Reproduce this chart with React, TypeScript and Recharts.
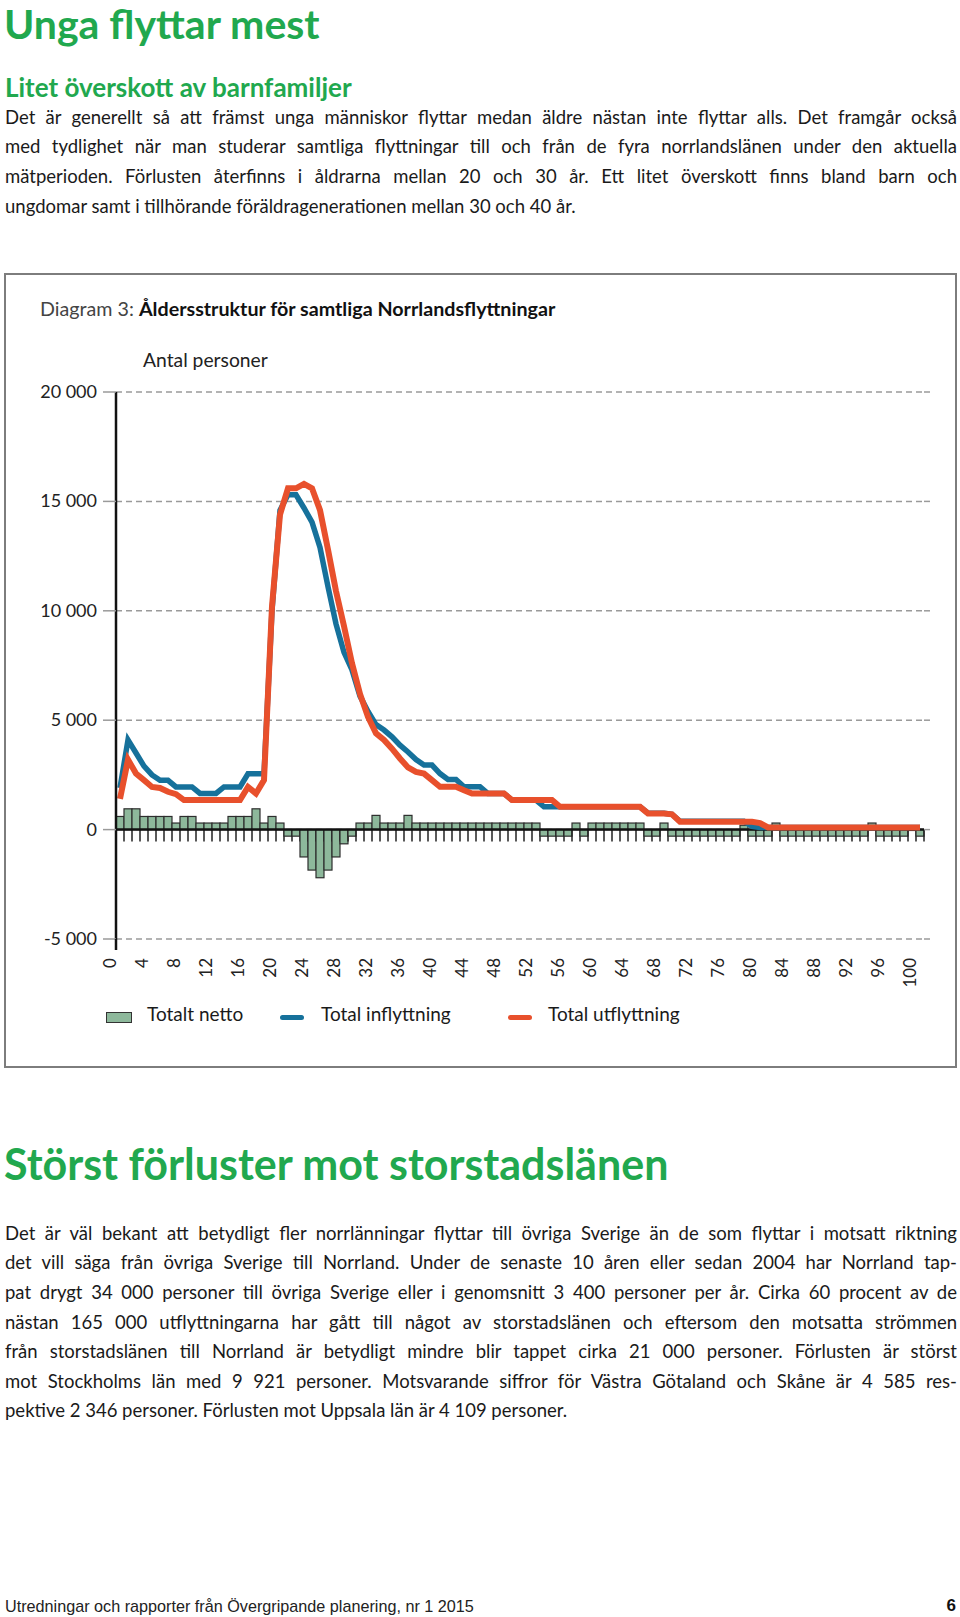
import {
  Bar,
  CartesianGrid,
  ComposedChart,
  Line,
  ReferenceLine,
  XAxis,
  YAxis,
} from "recharts";

// ålder 0–100
const ages = [
  0, 1, 2, 3, 4, 5, 6, 7, 8, 9, 10, 11, 12, 13, 14, 15, 16, 17, 18, 19, 20,
  21, 22, 23, 24, 25, 26, 27, 28, 29, 30, 31, 32, 33, 34, 35, 36, 37, 38, 39,
  40, 41, 42, 43, 44, 45, 46, 47, 48, 49, 50, 51, 52, 53, 54, 55, 56, 57, 58,
  59, 60, 61, 62, 63, 64, 65, 66, 67, 68, 69, 70, 71, 72, 73, 74, 75, 76, 77,
  78, 79, 80, 81, 82, 83, 84, 85, 86, 87, 88, 89, 90, 91, 92, 93, 94, 95, 96,
  97, 98, 99, 100,
];

const totaltNetto = [
  600, 950, 950, 600, 600, 600, 600, 300, 600, 600,
  300, 300, 300, 300, 600, 600, 600, 950, 300, 600,
  300, -300, -300, -1250, -1850, -2200, -1850, -1250, -650, -300,
  300, 300, 650, 300, 300, 300, 650, 300, 300, 300,
  300, 300, 300, 300, 300, 300, 300, 300, 300, 300,
  300, 300, 300, -300, -300, -300, -300, 300, -300, 300,
  300, 300, 300, 300, 300, 300, -300, -300, 300, -300,
  -300, -300, -300, -300, -300, -300, -300, -300, 200, -300,
  -300, -300, 300, -300, -300, -300, -300, -300, -300, -300,
  -300, -300, -300, -300, 300, -300, -300, -300, -300, -40,
  -300,
];

const totalInflyttning = [
  1900, 4100, 3500, 2900, 2500, 2250, 2250, 1950, 1950, 1950,
  1650, 1650, 1650, 1950, 1950, 1950, 2550, 2550, 2550, 10000,
  14600, 15300, 15300, 14700, 14050, 12900, 11100, 9400, 8100, 7300,
  6100, 5400, 4800, 4550, 4240, 3860, 3550, 3200, 2950, 2950,
  2560, 2290, 2290, 1960, 1960, 1960, 1650, 1650, 1650, 1350,
  1350, 1350, 1350, 1040, 1040, 1040, 1040, 1040, 1040, 1040,
  1040, 1040, 1040, 1040, 1040, 1040, 750, 750, 750, 700,
  380, 380, 380, 380, 380, 380, 380, 380, 380, 150,
  100, 100, 100, 100, 100, 100, 100, 100, 100, 100,
  100, 100, 100, 100, 100, 100, 100, 100, 100, 100,
  100,
];

const totalUtflyttning = [
  1400, 3200, 2560, 2260, 1950, 1900, 1730, 1620, 1350, 1350,
  1350, 1350, 1350, 1350, 1350, 1350, 1950, 1650, 2260, 10200,
  14400, 15600, 15600, 15800, 15600, 14600, 12800, 10900, 9300, 7600,
  6200, 5150, 4400, 4100, 3700, 3250, 2840, 2640, 2560, 2260,
  1960, 1960, 1960, 1800, 1650, 1650, 1650, 1650, 1650, 1350,
  1350, 1350, 1350, 1350, 1350, 1040, 1040, 1040, 1040, 1040,
  1040, 1040, 1040, 1040, 1040, 1040, 740, 740, 740, 700,
  360, 360, 360, 360, 360, 360, 360, 360, 360, 360,
  300, 100, 100, 100, 100, 100, 100, 100, 100, 100,
  100, 100, 100, 100, 100, 100, 100, 100, 100, 100,
  100,
];

const yTicks = [-5000, 0, 5000, 10000, 15000, 20000];

const chartData = ages.map((age, i) => ({
  age,
  netto: totaltNetto[i],
  inflyttning: totalInflyttning[i],
  utflyttning: totalUtflyttning[i],
}));

const GREEN = "#21a84e";
const BAR_FILL = "#8db89b";
const BLUE = "#16719b";
const RED = "#e8502c";
const FONT = "Lato, 'Open Sans', sans-serif";

const CHART_W = 960;
const CHART_H = 1000;
const PLOT_LEFT = 116;
const PLOT_RIGHT = 924;
const PLOT_TOP = 392;
const PLOT_BOTTOM = 939;
const X_AXIS_H = 50;
const LABEL_TOP = 958;

const BODY_FS = 18.5;

const fmt = (v: number) => String(v).replace(/\B(?=(\d{3})+(?!\d))/g, " ");

// top för en absolut placerad rad, givet baslinje
const topFor = (baseline: number, fs: number, lh: number) =>
  baseline - lh / 2 - 0.387 * fs;

const YTick = ({ y, payload }: any) => (
  <g>
    <line
      x1={PLOT_LEFT - 13}
      x2={PLOT_LEFT}
      y1={y}
      y2={y}
      stroke="#9a9a9a"
      strokeWidth={1.5}
    />
    <line
      x1={PLOT_RIGHT}
      x2={931}
      y1={y}
      y2={y}
      stroke="#9a9a9a"
      strokeWidth={1.5}
      strokeDasharray="6 4"
    />
    {payload.value === yTicks[0] && (
      <line x1={PLOT_LEFT} x2={PLOT_LEFT} y1={y} y2={y + 11} stroke="#111" strokeWidth={2.5} />
    )}
    <text x={97} y={y} dy={6} textAnchor="end" fontSize={18} fontFamily={FONT} fill="#222">
      {fmt(payload.value)}
    </text>
  </g>
);

const XTick = ({ x, payload }: any) => {
  const ax = x - 4;
  return (
    <text
      x={ax}
      y={LABEL_TOP}
      transform={`rotate(-90, ${ax}, ${LABEL_TOP})`}
      textAnchor="end"
      fontSize={17}
      fontFamily={FONT}
      fill="#222"
    >
      {payload.value}
    </text>
  );
};

const NetBar = (props: any) => {
  const { x, y, width, height, payload } = props;
  const top = Math.min(y, y + height);
  const h = Math.abs(height);
  const zeroY = payload.netto >= 0 ? top + h : top;
  return (
    <g>
      <rect x={x} y={top} width={width} height={h} fill={BAR_FILL} stroke="#2d2d2d" strokeWidth={1.2} />
      <line x1={x + width} x2={x + width} y1={zeroY} y2={zeroY + 12} stroke="#222" strokeWidth={1.5} />
    </g>
  );
};

type RowProps = { baseline: number; children: React.ReactNode; last?: boolean };

const BodyRow = ({ baseline, children, last }: RowProps) => (
  <div
    style={{
      position: "absolute",
      left: 5,
      width: 952,
      top: topFor(baseline, BODY_FS, 22),
      fontSize: BODY_FS,
      lineHeight: "22px",
      whiteSpace: "nowrap",
      textAlign: last ? "left" : "justify",
      textAlignLast: last ? "left" : "justify",
      color: "#1a1a1a",
    }}
  >
    {children}
  </div>
);

const intro = [
  "Det är generellt så att främst unga människor flyttar medan äldre nästan inte flyttar alls. Det framgår också",
  "med tydlighet när man studerar samtliga flyttningar till och från de fyra norrlandslänen under den aktuella",
  "mätperioden. Förlusten återfinns i åldrarna mellan 20 och 30 år. Ett litet överskott finns bland barn och",
  "ungdomar samt i tillhörande föräldragenerationen mellan 30 och 40 år.",
];

const storstad = [
  "Det är väl bekant att betydligt fler norrlänningar flyttar till övriga Sverige än de som flyttar i motsatt riktning",
  "det vill säga från övriga Sverige till Norrland. Under de senaste 10 åren eller sedan 2004 har Norrland tap-",
  "pat drygt 34 000 personer till övriga Sverige eller i genomsnitt 3 400 personer per år. Cirka 60 procent av de",
  "nästan 165 000 utflyttningarna har gått till något av storstadslänen och eftersom den motsatta strömmen",
  "från storstadslänen till Norrland är betydligt mindre blir tappet cirka 21 000 personer. Förlusten är störst",
  "mot Stockholms län med 9 921 personer. Motsvarande siffror för Västra Götaland och Skåne är 4 585 res-",
  "pektive 2 346 personer. Förlusten mot Uppsala län är 4 109 personer.",
];

const legendText = { position: "absolute" as const, top: topFor(1021.5, 19, 22), fontSize: 19, lineHeight: "22px", color: "#1a1a1a", whiteSpace: "nowrap" as const };

const App = () => (
  <div style={{ position: "relative", width: 960, height: 1617, fontFamily: FONT, background: "#fff", overflow: "hidden" }}>
    <style>{"body{margin:0}"}</style>

    <div style={{ position: "absolute", left: 4, top: topFor(40, 41, 44), fontSize: 41, lineHeight: "44px", fontWeight: 700, color: GREEN, whiteSpace: "nowrap" }}>
      Unga flyttar mest
    </div>
    <div style={{ position: "absolute", left: 5, top: topFor(97, 26, 30), fontSize: 26, lineHeight: "30px", fontWeight: 700, color: GREEN, whiteSpace: "nowrap" }}>
      Litet överskott av barnfamiljer
    </div>
    {intro.map((t, i) => (
      <BodyRow key={t} baseline={124 + i * 29.6} last={i === intro.length - 1}>
        {t}
      </BodyRow>
    ))}

    <div style={{ position: "absolute", left: 4, top: 273, width: 953, height: 795, border: "2px solid #7d7d7d", boxSizing: "border-box" }} />

    <div style={{ position: "absolute", left: 40, top: topFor(317, 19.7, 24), fontSize: 19.7, lineHeight: "24px", whiteSpace: "nowrap" }}>
      <span style={{ fontWeight: 400, color: "#444" }}>Diagram 3: </span>
      <span style={{ fontWeight: 700, color: "#111" }}>Åldersstruktur för samtliga Norrlandsflyttningar</span>
    </div>
    <div style={{ position: "absolute", left: 143, top: topFor(367, 19.3, 22), fontSize: 19.3, lineHeight: "22px", color: "#222", whiteSpace: "nowrap" }}>
      Antal personer
    </div>

    <div style={{ position: "absolute", left: 0, top: 0 }}>
      <ComposedChart
        width={CHART_W}
        height={CHART_H}
        data={chartData}
        barCategoryGap={0}
        barGap={0}
        margin={{ top: PLOT_TOP, right: CHART_W - PLOT_RIGHT, bottom: CHART_H - PLOT_BOTTOM - X_AXIS_H, left: 0 }}
      >
        <CartesianGrid vertical={false} stroke="#9a9a9a" strokeWidth={1.5} strokeDasharray="6 4" />
        <XAxis
          dataKey="age"
          type="category"
          interval={3}
          axisLine={false}
          tickLine={false}
          height={X_AXIS_H}
          tick={(p: any) => <XTick {...p} />}
        />
        <YAxis
          type="number"
          domain={[yTicks[0], yTicks[yTicks.length - 1]]}
          ticks={yTicks}
          width={PLOT_LEFT}
          axisLine={{ stroke: "#111", strokeWidth: 2.5 }}
          tickLine={false}
          tick={(p: any) => <YTick {...p} />}
        />
        <Bar dataKey="netto" name="Totalt netto" shape={(p: any) => <NetBar {...p} />} isAnimationActive={false} />
        <ReferenceLine y={0} stroke="#111" strokeWidth={2.5} />
        <Line
          type="linear"
          dataKey="inflyttning"
          name="Total inflyttning"
          stroke={BLUE}
          strokeWidth={5.5}
          dot={false}
          activeDot={false}
          isAnimationActive={false}
        />
        <Line
          type="linear"
          dataKey="utflyttning"
          name="Total utflyttning"
          stroke={RED}
          strokeWidth={6}
          dot={false}
          activeDot={false}
          isAnimationActive={false}
        />
      </ComposedChart>
    </div>

    {/* förklaring */}
    <div style={{ position: "absolute", left: 106, top: 1012, width: 26, height: 11, background: BAR_FILL, border: "1.5px solid #333", boxSizing: "border-box" }} />
    <div style={{ ...legendText, left: 147 }}>Totalt netto</div>
    <div style={{ position: "absolute", left: 280, top: 1014.8, width: 24, height: 5, borderRadius: 3, background: BLUE }} />
    <div style={{ ...legendText, left: 321 }}>Total inflyttning</div>
    <div style={{ position: "absolute", left: 508, top: 1014.8, width: 24, height: 5, borderRadius: 3, background: RED }} />
    <div style={{ ...legendText, left: 548 }}>Total utflyttning</div>

    <div style={{ position: "absolute", left: 4, top: topFor(1181, 43, 48), fontSize: 43, lineHeight: "48px", fontWeight: 700, color: GREEN, whiteSpace: "nowrap" }}>
      Störst förluster mot storstadslänen
    </div>
    {storstad.map((t, i) => (
      <BodyRow key={t} baseline={1240 + i * 29.56} last={i === storstad.length - 1}>
        {t}
      </BodyRow>
    ))}

    <div style={{ position: "absolute", left: 5, top: 1597, fontSize: 16.2, lineHeight: "18px", fontFamily: "'Liberation Sans', Arial, sans-serif", color: "#222", whiteSpace: "nowrap" }}>
      Utredningar och rapporter från Övergripande planering, nr 1 2015
    </div>
    <div style={{ position: "absolute", right: 4, top: 1596, fontSize: 17, lineHeight: "20px", fontWeight: 700, fontFamily: "'Liberation Sans', Arial, sans-serif", color: "#111" }}>
      6
    </div>
  </div>
);

export default App;
